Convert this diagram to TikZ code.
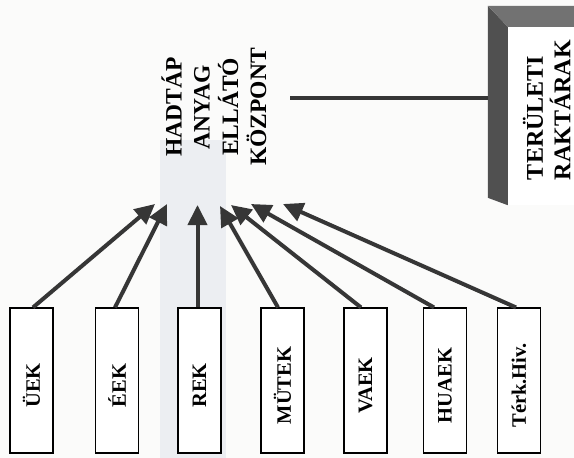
\documentclass[tikz,border=0pt]{standalone}
\usepackage{fontspec}
\setmainfont{Liberation Serif}
\usetikzlibrary{arrows.meta}

\definecolor{ink}{HTML}{363636}
\definecolor{sidedark}{HTML}{505050}
\definecolor{topgray}{HTML}{727272}
\definecolor{paper}{HTML}{FBFBFA}
\definecolor{band}{HTML}{ECEEF2}

% unit name set upright-rotated, sitting a little below the box centre
\newcommand\unitlabel[1]{\rotatebox{90}{#1\hspace{10pt}}}

\begin{document}
\begin{tikzpicture}[x=1pt,y=-1pt,
  unitbox/.style={draw=black, line width=1.1pt, fill=white,
    minimum width=43pt, minimum height=145pt, inner sep=0pt,
    font=\fontsize{20.5}{24}\selectfont\bfseries},
  feed/.style={draw=ink, line width=4pt, -{Triangle[length=20pt,width=19pt]}},
  link/.style={draw=ink, line width=4pt},
  bigtext/.style={inner sep=0pt, font=\fontsize{23.5}{28}\selectfont\bfseries},
  storetext/.style={inner sep=0pt, font=\fontsize{24}{22.5}\selectfont\bfseries},
]
\useasboundingbox (0,0) rectangle (574,458);
\clip (0,0) rectangle (574,458);
\fill[paper] (0,0) rectangle (574,458);
\fill[band] (160,140) rectangle (226,458);

% central depot
\node[bigtext] (hq) at (218,107)
  {\rotatebox{90}{\begin{tabular}{@{}c@{}}HADTÁP\\ANYAG\\ELLÁTÓ\\KÖZPONT\end{tabular}}};

% regional stores: front face with dark left and top faces
\node[minimum width=70pt, minimum height=178pt, inner sep=0pt, fill=white] (store) at (543,116) {};
\fill[sidedark] (store.north west) -- ++(-20,-21) coordinate (barTop)
  -- ++(0,192) coordinate (barBottom) -- (store.south west) -- cycle;
\fill[topgray] (store.north west) -- (barTop) -- ++(120,0) -- ++(0,21) -- cycle;
\node[storetext] (storelabel) at (550,110)
  {\rotatebox{90}{\begin{tabular}{@{}l@{}}TERÜLETI\\RAKTÁRAK\end{tabular}}};

% link between depot and stores
\coordinate (linkstart) at (290,98);
\draw[link] (linkstart) -- (linkstart -| barTop);

% supplying units
\node[unitbox] (u1) at (31.5,380.5) {\unitlabel{ÜEK}};
\node[unitbox] (u2) at (117,380.5) {\unitlabel{ÉEK}};
\node[unitbox] (u3) at (199.5,380.5) {\unitlabel{REK}};
\node[unitbox] (u4) at (282.5,380.5) {\unitlabel{MÜTEK}};
\node[unitbox] (u5) at (365.5,380.5) {\unitlabel{VAEK}};
\node[unitbox] (u6) at (445,380.5) {\unitlabel{HUAEK}};
\node[unitbox] (u7) at (519,380.5) {\unitlabel{Térk.Hiv.}};

% arrow tips below the depot
\coordinate (t1) at (155,204);
\coordinate (t2) at (167,204);
\coordinate (t3) at (197.5,205);
\coordinate (t4) at (220,206);
\coordinate (t5) at (231,205);
\coordinate (t6) at (251,204);
\coordinate (t7) at (283,204);

\draw[feed] ([xshift=1.5pt]u1.north) -- (t1);
\draw[feed] ([xshift=-2pt]u2.north) -- (t2);
\draw[feed] ([xshift=-2pt]u3.north) -- (t3);
\draw[feed] ([xshift=-4.5pt]u4.north) -- (t4);
\draw[feed] ([xshift=-4.5pt]u5.north) -- (t5);
\draw[feed] ([xshift=-11pt]u6.north) -- (t6);
\draw[feed] ([xshift=-3pt]u7.north) -- (t7);
\end{tikzpicture}
\end{document}
